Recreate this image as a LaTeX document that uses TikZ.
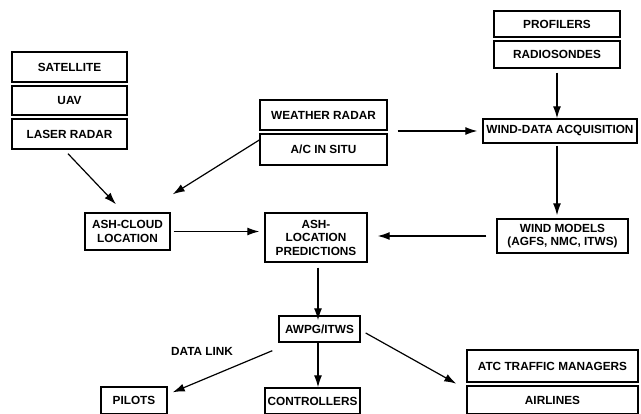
\documentclass[tikz,border=0pt]{standalone}
\usepackage{fontspec}
\setmainfont{Liberation Sans}
\usetikzlibrary{arrows.meta}
\begin{document}
\begin{tikzpicture}[x=1pt,y=-1pt,
  box/.style={draw,line width=1.4pt,inner sep=0pt,align=center,
    font=\fontsize{11.8}{13.5}\selectfont\bfseries},
  lbl/.style={inner sep=0pt,font=\fontsize{11.8}{13.5}\selectfont\bfseries},
  arr/.style={line width=1.2pt,-{Latex[length=12pt,width=8pt]}}]
\useasboundingbox (0,0) rectangle (641,414);
% left sources
\node[box,minimum width=115,minimum height=30] (sat) at (69.5,67) {SATELLITE};
\node[box,minimum width=115,minimum height=29] (uav) at (69.5,100.5) {UAV};
\node[box,minimum width=115,minimum height=30] (laser) at (69.5,134) {LASER RADAR};
% middle sources
\node[box,minimum width=127,minimum height=30] (wr) at (323.5,115) {WEATHER RADAR};
\node[box,minimum width=127,minimum height=31] (acis) at (323.5,149.5) {A/C IN SITU};
% right sources
\node[box,minimum width=126,minimum height=26] (prof) at (557,24) {PROFILERS};
\node[box,minimum width=126,minimum height=27] (radio) at (557,54.5) {RADIOSONDES};
\node[box,minimum width=154,minimum height=24] (wda) at (560,131) {WIND-DATA ACQUISITION};
\node[box,minimum width=131,minimum height=34] (wm) at (562.5,236) {WIND MODELS\\(AGFS, NMC, ITWS)};
% processing
\node[box,minimum width=85,minimum height=37] (acl) at (127.5,231.5) {ASH-CLOUD\\LOCATION};
\node[box,minimum width=102,minimum height=49] (alp) at (316,237.5) {ASH-\\LOCATION\\PREDICTIONS};
\node[box,minimum width=81,minimum height=26] (awpg) at (319.5,329) {AWPG/ITWS};
% users
\node[box,minimum width=66,minimum height=27] (pilots) at (134,400.5) {PILOTS};
\node[box,minimum width=95,minimum height=26] (ctrl) at (312.5,401) {CONTROLLERS};
\node[box,minimum width=171,minimum height=32] (atc) at (552.5,366) {ATC TRAFFIC MANAGERS};
\node[box,minimum width=171,minimum height=28] (air) at (552.5,400) {AIRLINES};
\node[lbl] (dl) at (202,351) {DATA LINK};
% connectors
\draw[arr] ([xshift=-1.5,yshift=-4]laser.south) -- ([xshift=-11.5,yshift=8]acl.north);
\draw[arr] ([yshift=9.5]acis.west) -- ([xshift=2,yshift=18]acl.north east);
\draw[arr] ([xshift=10]wr.south east |- wda.west) -- ([xshift=-5]wda.west);
\draw[arr] ([yshift=-4]radio.south) -- (radio.south |- wda.north);
\draw[arr,shorten <=2pt,shorten >=3pt] (wda.south -| radio.south) -- (radio.south |- wm.north);
\draw[arr] ([xshift=3]acl.east) -- ([xshift=-5]acl.east -| alp.west);
\draw[arr] ([xshift=-10]wm.west) -- ([xshift=10]wm.west -| alp.east);
\draw[arr] ([xshift=2,yshift=-5]alp.south) -- ([xshift=2,yshift=-5]alp.south |- awpg.north);
\draw[arr] ([xshift=-6,yshift=-8]awpg.south west) -- ([xshift=5,yshift=-6]pilots.north east);
\draw[arr] ([xshift=-1.5]awpg.south) -- ([xshift=-1.5]awpg.south |- ctrl.north);
\draw[arr] ([xshift=5,yshift=-4]awpg.east) -- ([xshift=-10,yshift=-1]atc.south west);
\end{tikzpicture}
\end{document}
